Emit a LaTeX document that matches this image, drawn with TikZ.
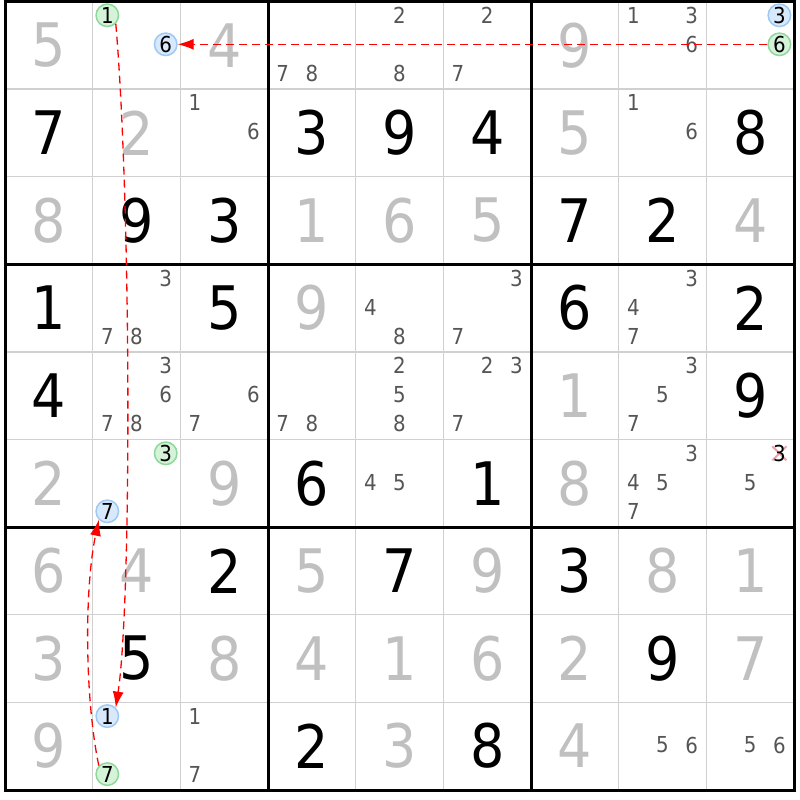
\documentclass[tikz,border=0pt]{standalone}
\usepackage{fontspec}
\setmainfont{DejaVu Sans Condensed}
\usetikzlibrary{arrows.meta}
\definecolor{solvedgrey}{HTML}{C0C0C0}
\definecolor{candgrey}{HTML}{555555}
\definecolor{thingrid}{HTML}{D0D0D0}
\definecolor{bluefill}{HTML}{D8E9FB}
\definecolor{bluedraw}{HTML}{9EC9F5}
\definecolor{greenfill}{HTML}{D5F3D8}
\definecolor{greendraw}{HTML}{8ED89C}
\definecolor{crosspink}{HTML}{F4A0A8}
\newcommand\cellx[1]{5+(#1-0.5)*87.67}
\newcommand\celly[1]{1.5+(#1-0.5)*87.6}
\newcommand\Gv[3]{\node[givendigit] (n#1#2) at ({\cellx{#2}},{\celly{#1}}) {#3};}
\newcommand\Sv[3]{\node[solveddigit] (n#1#2) at ({\cellx{#2}},{\celly{#1}}) {#3};}
\newcommand\Cd[3]{%
  \pgfmathsetmacro\candx{\cellx{#2}+(mod(#3-1,3)-1)*29.2}%
  \pgfmathsetmacro\candy{\celly{#1}-1+(int((#3-1)/3)-1)*29}%
  \node[canddigit] (c#1#2#3) at (\candx,\candy) {#3};}
\newcommand\Cs[3]{\foreach \dd in {#3} {\Cd{#1}{#2}{\dd}}}
\newcommand\Cc[5]{%
  \pgfmathsetmacro\candx{\cellx{#2}+(mod(#3-1,3)-1)*29.2}%
  \pgfmathsetmacro\candy{\celly{#1}-1+(int((#3-1)/3)-1)*29}%
  \node[#4] (#5) at (\candx,\candy) {#3};}
\begin{document}
\begin{tikzpicture}[x=1pt,y=-1pt,
  givendigit/.style={inner sep=0pt,text=black,font=\fontsize{60}{60}\selectfont},
  solveddigit/.style={inner sep=0pt,text=solvedgrey,font=\fontsize{60}{60}\selectfont},
  canddigit/.style={inner sep=0pt,text=candgrey,font=\fontsize{22}{22}\selectfont},
  bc/.style={circle,draw=bluedraw,fill=bluefill,line width=1.5pt,minimum size=22.5pt,inner sep=0pt,text=black,font=\fontsize{22}{22}\selectfont},
  gc/.style={circle,draw=greendraw,fill=greenfill,line width=1.5pt,minimum size=22.5pt,inner sep=0pt,text=black,font=\fontsize{22}{22}\selectfont},
  thinline/.style={thingrid,line width=1.5pt},
  thickline/.style={black,line width=3pt},
  link/.style={red,dash pattern=on 8pt off 5pt,line width=1.3pt,-{Latex[length=16pt,width=11pt]}},
]
\useasboundingbox (0,0) rectangle (800,800);
\fill[white] (0,0) rectangle (800,800);
% thin grid
\foreach \i in {1,2,4,5,7,8} {
  \draw[thinline] ({5+\i*87.67},1.5) -- ({5+\i*87.67},790);
  \draw[thinline] (5,{1.5+\i*87.6}) -- (794,{1.5+\i*87.6});
}
% thick grid
\foreach \i in {3,6} {
  \draw[thickline] ({5+\i*87.67},1.5) -- ({5+\i*87.67},790);
  \draw[thickline] (5,{1.5+\i*87.6}) -- (794,{1.5+\i*87.6});
}
\draw[thickline] (5,1.5) rectangle (794,790);
% row 1
\Sv{1}{1}{5} \Cc{1}{2}{1}{gc}{g1} \Cc{1}{2}{6}{bc}{b6} \Sv{1}{3}{4}
\Cs{1}{4}{7,8} \Cs{1}{5}{2,8} \Cs{1}{6}{2,7} \Sv{1}{7}{9} \Cs{1}{8}{1,3,6}
\Cc{1}{9}{3}{bc}{b3} \Cc{1}{9}{6}{gc}{g6}
% row 2
\Gv{2}{1}{7} \Sv{2}{2}{2} \Cs{2}{3}{1,6} \Gv{2}{4}{3} \Gv{2}{5}{9} \Gv{2}{6}{4}
\Sv{2}{7}{5} \Cs{2}{8}{1,6} \Gv{2}{9}{8}
% row 3
\Sv{3}{1}{8} \Gv{3}{2}{9} \Gv{3}{3}{3} \Sv{3}{4}{1} \Sv{3}{5}{6} \Sv{3}{6}{5}
\Gv{3}{7}{7} \Gv{3}{8}{2} \Sv{3}{9}{4}
% row 4
\Gv{4}{1}{1} \Cs{4}{2}{3,7,8} \Gv{4}{3}{5} \Sv{4}{4}{9} \Cs{4}{5}{4,8} \Cs{4}{6}{3,7}
\Gv{4}{7}{6} \Cs{4}{8}{3,4,7} \Gv{4}{9}{2}
% row 5
\Gv{5}{1}{4} \Cs{5}{2}{3,6,7,8} \Cs{5}{3}{6,7} \Cs{5}{4}{7,8} \Cs{5}{5}{2,5,8}
\Cs{5}{6}{2,3,7} \Sv{5}{7}{1} \Cs{5}{8}{3,5,7} \Gv{5}{9}{9}
% row 6
\Sv{6}{1}{2} \Cc{6}{2}{3}{gc}{g3} \Cc{6}{2}{7}{bc}{b7} \Sv{6}{3}{9} \Gv{6}{4}{6}
\Cs{6}{5}{4,5} \Gv{6}{6}{1} \Sv{6}{7}{8} \Cs{6}{8}{3,4,5,7} \Cs{6}{9}{5}
\pgfmathsetmacro\candx{\cellx{9}+29.2}
\pgfmathsetmacro\candy{\celly{6}-1-29}
\coordinate (xc) at (\candx,\candy);
\draw[crosspink,line width=2pt] ([shift={(-7,-7)}]xc) -- ([shift={(7,7)}]xc);
\draw[crosspink,line width=2pt] ([shift={(-7,7)}]xc) -- ([shift={(7,-7)}]xc);
\node[canddigit,text=black] (x693) at (xc) {3};
% row 7
\Sv{7}{1}{6} \Sv{7}{2}{4} \Gv{7}{3}{2} \Sv{7}{4}{5} \Gv{7}{5}{7} \Sv{7}{6}{9}
\Gv{7}{7}{3} \Sv{7}{8}{8} \Sv{7}{9}{1}
% row 8
\Sv{8}{1}{3} \Gv{8}{2}{5} \Sv{8}{3}{8} \Sv{8}{4}{4} \Sv{8}{5}{1} \Sv{8}{6}{6}
\Sv{8}{7}{2} \Gv{8}{8}{9} \Sv{8}{9}{7}
% row 9
\Sv{9}{1}{9} \Cc{9}{2}{1}{bc}{b1} \Cc{9}{2}{7}{gc}{g7} \Cs{9}{3}{1,7} \Gv{9}{4}{2}
\Sv{9}{5}{3} \Gv{9}{6}{8} \Sv{9}{7}{4} \Cs{9}{8}{5,6} \Cs{9}{9}{5,6}
% links
\draw[link] (g6) -- (b6);
\draw[link] (g1.south east) .. controls (131,200) and (132,600) .. (b1.north east);
\draw[link] (g7.north west) .. controls (85,700) and (84,590) .. (b7.south west);
\end{tikzpicture}
\end{document}
